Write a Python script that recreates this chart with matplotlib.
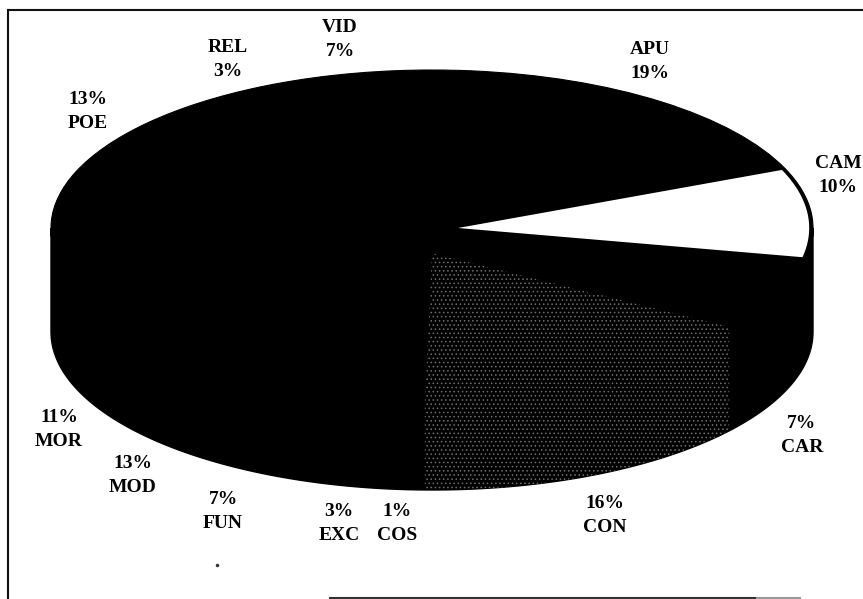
"""3-D style pie chart of course categories, redrawn from a scanned figure."""
import matplotlib
matplotlib.use("Agg")
import matplotlib.pyplot as plt
import numpy as np
from matplotlib.patches import Polygon

categories = ["VID", "APU", "CAM", "CAR", "CON", "COS", "EXC", "FUN", "MOD", "MOR", "POE", "REL"]
percents = [7, 19, 10, 7, 16, 1, 3, 7, 13, 11, 13, 3]

# label centres in image pixels, and whether the percentage goes first
label_pos = {
    "VID": (340, 28, False), "APU": (650, 49, False), "CAM": (838, 163, False),
    "CAR": (802, 423, True), "CON": (605, 503, True), "COS": (397, 512, True),
    "EXC": (339, 512, True), "FUN": (223, 499, True), "MOD": (133, 463, True),
    "MOR": (59, 417, True), "POE": (88, 100, True), "REL": (228, 48, False),
}

W, H = 863, 599
CX, CY, RX, RY = 432, 228, 381, 158
DEPTH = 104 / RY
LINE_GAP = 24
SPECKLE_SHIFT = 5  # degrees, the speckle in the scan sits a bit clockwise of the slice

plt.rcParams["font.family"] = ["Liberation Serif", "DejaVu Serif"]
plt.rcParams["hatch.linewidth"] = 0.6

fig = plt.figure(figsize=(W / 100, H / 100), dpi=100)
ax = fig.add_axes([0, 0, 1, 1])

wedges, _ = ax.pie(percents, startangle=107, counterclock=False, normalize=True,
                   colors=["black"] * len(percents),
                   wedgeprops={"edgecolor": "black", "linewidth": 0.8})
ax.set_aspect("auto")
ax.set_xlim(-CX / RX, (W - CX) / RX)
ax.set_ylim((CY - H) / RY, CY / RY)


def arc(theta1, theta2, n=120):
    t = np.radians(np.linspace(theta1, theta2, n))
    return np.cos(t), np.sin(t)


# body of the pie under the top face
x, y = arc(180, 360)
ax.fill(np.r_[x, x[::-1]], np.r_[y, y[::-1] - DEPTH], color="black", zorder=0.5)

# the CON slice is the speckled one, top face and side together
con = wedges[categories.index("CON")]
x, y = arc(con.theta1 - SPECKLE_SHIFT, con.theta2 - SPECKLE_SHIFT)
outline = np.c_[np.r_[0, x[0], x, x[-1]], np.r_[-0.16, y[0] - DEPTH * 0.2, y - DEPTH, y[-1]]]
ax.add_patch(Polygon(outline, facecolor="black", edgecolor="#707070", linewidth=0,
                     hatch="....", zorder=3))

# the CAM slice is white, its tip is lost in the black of the scan
cam = wedges[categories.index("CAM")]
x, y = arc(cam.theta1, cam.theta2)
x, y = x * 0.99, y * 0.985
ax.add_patch(Polygon(np.c_[np.r_[26 / RX, x], np.r_[0, y]], facecolor="white",
                     edgecolor="none", zorder=3))

# frame of the scanned page
to_x = lambda px: (px - CX) / RX
to_y = lambda py: (CY - py) / RY
ax.plot([to_x(8), to_x(8)], [to_y(599), to_y(10)], color="#111111", lw=1.5, zorder=1)
ax.plot([to_x(8), to_x(863)], [to_y(10), to_y(10)], color="#111111", lw=1.5, zorder=1)
ax.plot([to_x(330), to_x(757)], [to_y(598), to_y(598)], color="#333333", lw=1.5, zorder=1)
ax.plot([to_x(757), to_x(800)], [to_y(598), to_y(598)], color="#999999", lw=1.5, zorder=1)
ax.plot(to_x(217), to_y(565), "o", color="#333333", ms=1.5, zorder=1)

for name, pct in zip(categories, percents):
    px, py, pct_first = label_pos[name]
    lines = [f"{pct}%", name] if pct_first else [name, f"{pct}%"]
    for i, s in enumerate(lines):
        ax.text(to_x(px), to_y(py + i * LINE_GAP), s, ha="center", va="center",
                fontsize=14, fontweight="bold", color="black", zorder=4)

fig.savefig("out.png", dpi=100)
